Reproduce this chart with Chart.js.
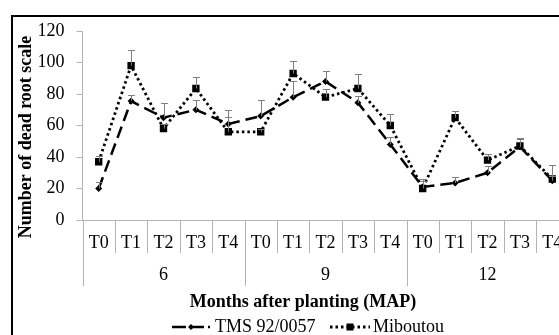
<!DOCTYPE html>
<html>
<head>
<meta charset="utf-8">
<script src="https://cdn.jsdelivr.net/npm/chart.js@4.4.0/dist/chart.umd.min.js"></script>
<style>
  html, body { margin: 0; padding: 0; background: #fff; overflow: hidden; }
  body { width: 559px; height: 335px; position: relative; }
  .frame { position: absolute; left: 11px; top: 15px; width: 700px; height: 400px;
           border-left: 2px solid #000; border-top: 2px solid #000; }
  #chart { position: absolute; left: 0; top: 0; }
</style>
</head>
<body>
<div class="frame"></div>
<canvas id="chart" width="600" height="335"></canvas>
<script>
// categories: treatment within each sampling month
const treatments = ['T0', 'T1', 'T2', 'T3', 'T4'];
const months = ['6', '9', '12'];
const labels = months.flatMap(() => treatments);

// number of dead root scale
const tms      = [20, 75.5, 65, 70, 61,   66, 78, 88, 74.5, 48,   21, 23.5, 30, 46.5, 25];
const tmsErr   = [4, 4, 9, 6, 4.5,        10, 10, 6.5, 4.5, 4.5,  5, 3.5, 4, 5, 3];
const mib      = [37, 98, 58, 83.5, 56,   56, 93, 78, 83.5, 60,   20, 65, 38, 47, 26];
const mibErr   = [3.5, 10, 3, 7.5, 14,    2, 8, 5, 9, 7,          5, 4, 4, 5, 9];

const yTicks = [0, 20, 40, 60, 80, 100, 120];

const SERIF = '"Liberation Serif", "Times New Roman", serif';
const AXIS = '#b4b4b4';

const series = [
  { label: 'TMS 92/0057', data: tms, err: tmsErr, dash: [12, 6], width: 2.5, point: 'rectRot', radius: 3.5 },
  { label: 'Miboutou',    data: mib, err: mibErr, dash: [2.5, 3], width: 2.8, point: 'rect',    radius: 5.2 },
];

// error bars (plus side only), group separators, group labels, titles, legend
const decorations = {
  id: 'decorations',
  afterDatasetsDraw(chart) {
    const { ctx, chartArea: a, scales: { x, y } } = chart;
    ctx.save();
    ctx.strokeStyle = '#7f7f7f';
    ctx.lineWidth = 1;
    series.forEach(s => {
      s.data.forEach((v, i) => {
        const px = Math.round(x.getPixelForValue(i)) + 0.5;
        const y0 = y.getPixelForValue(v);
        const y1 = Math.round(y.getPixelForValue(v + s.err[i])) + 0.5;
        ctx.beginPath();
        ctx.moveTo(px, y0); ctx.lineTo(px, y1);
        ctx.moveTo(px - 3.5, y1); ctx.lineTo(px + 3.5, y1);
        ctx.stroke();
      });
    });
    ctx.restore();
  },
  afterDraw(chart) {
    const { ctx, chartArea: a, scales: { x } } = chart;
    const n = labels.length;
    const w = (a.right - a.left) / n;
    ctx.save();
    ctx.strokeStyle = AXIS;
    ctx.lineWidth = 1;
    for (let i = 0; i <= n; i++) {
      const px = Math.round(a.left + i * w) + 0.5;
      ctx.beginPath();
      ctx.moveTo(px, a.bottom);
      ctx.lineTo(px, i % treatments.length === 0 ? a.bottom + 66 : a.bottom + 33);
      ctx.stroke();
    }
    ctx.fillStyle = '#000';
    ctx.font = '18px ' + SERIF;
    ctx.textAlign = 'center';
    ctx.textBaseline = 'middle';
    months.forEach((m, g) => {
      const px = x.getPixelForValue(g * treatments.length + 2);
      ctx.fillText(m, px, a.bottom + 55);
    });

    // axis titles
    ctx.font = 'bold 18px ' + SERIF;
    ctx.fillText('Months after planting (MAP)', 303, 302);
    ctx.save();
    ctx.translate(26, 137);
    ctx.rotate(-Math.PI / 2);
    ctx.fillText('Number of dead root scale', 0, 0);
    ctx.restore();

    // legend
    const ly = 327;
    const items = [
      { s: series[0], x0: 172, x1: 210, tx: 215 },
      { s: series[1], x0: 330, x1: 370, tx: 373 },
    ];
    items.forEach(it => {
      ctx.save();
      ctx.strokeStyle = '#000';
      ctx.lineWidth = it.s.width;
      ctx.setLineDash(it.s === series[0] ? [14, 4] : it.s.dash);
      ctx.beginPath();
      ctx.moveTo(it.x0, ly); ctx.lineTo(it.x1, ly);
      ctx.stroke();
      ctx.setLineDash([]);
      ctx.fillStyle = '#000';
      const cx = (it.x0 + it.x1) / 2;
      if (it.s.point === 'rect') {
        ctx.fillRect(cx - 3.5, ly - 3.5, 7, 7);
      } else {
        ctx.beginPath();
        ctx.moveTo(cx, ly - 3); ctx.lineTo(cx + 3, ly); ctx.lineTo(cx, ly + 3); ctx.lineTo(cx - 3, ly);
        ctx.closePath(); ctx.fill();
      }
      ctx.restore();
      ctx.font = '18px ' + SERIF;
      ctx.textAlign = 'left';
      ctx.fillText(it.s.label, it.tx, ly);
    });
    ctx.restore();
  }
};

new Chart(document.getElementById('chart'), {
  type: 'line',
  data: {
    labels,
    datasets: series.map(s => ({
      label: s.label,
      data: s.data,
      borderColor: '#000',
      backgroundColor: '#000',
      borderWidth: s.width,
      borderDash: s.dash,
      tension: 0,
      pointStyle: s.point,
      pointRadius: s.radius,
      pointBorderWidth: 0,
      pointBackgroundColor: '#000',
      fill: false,
    }))
  },
  options: {
    responsive: false,
    animation: false,
    devicePixelRatio: 1,
    layout: { padding: { left: 0, top: 31, right: 31.5, bottom: 0 } },
    plugins: { legend: { display: false }, tooltip: { enabled: false } },
    scales: {
      x: {
        type: 'category',
        offset: true,
        afterFit(scale) { scale.height = 115; },
        border: { color: AXIS, width: 1 },
        grid: { display: false, drawTicks: false },
        ticks: { color: '#000', font: { family: SERIF, size: 18 }, padding: 12, maxRotation: 0, autoSkip: false },
      },
      y: {
        min: 0, max: 120,
        afterFit(scale) { scale.width = 82.5; },
        afterBuildTicks(scale) { scale.ticks = yTicks.map(v => ({ value: v })); },
        border: { color: AXIS, width: 1 },
        grid: { drawOnChartArea: false, color: AXIS, tickLength: 6 },
        ticks: { color: '#000', font: { family: SERIF, size: 18 }, padding: 12 },
      }
    }
  },
  plugins: [decorations]
});
</script>
</body>
</html>
